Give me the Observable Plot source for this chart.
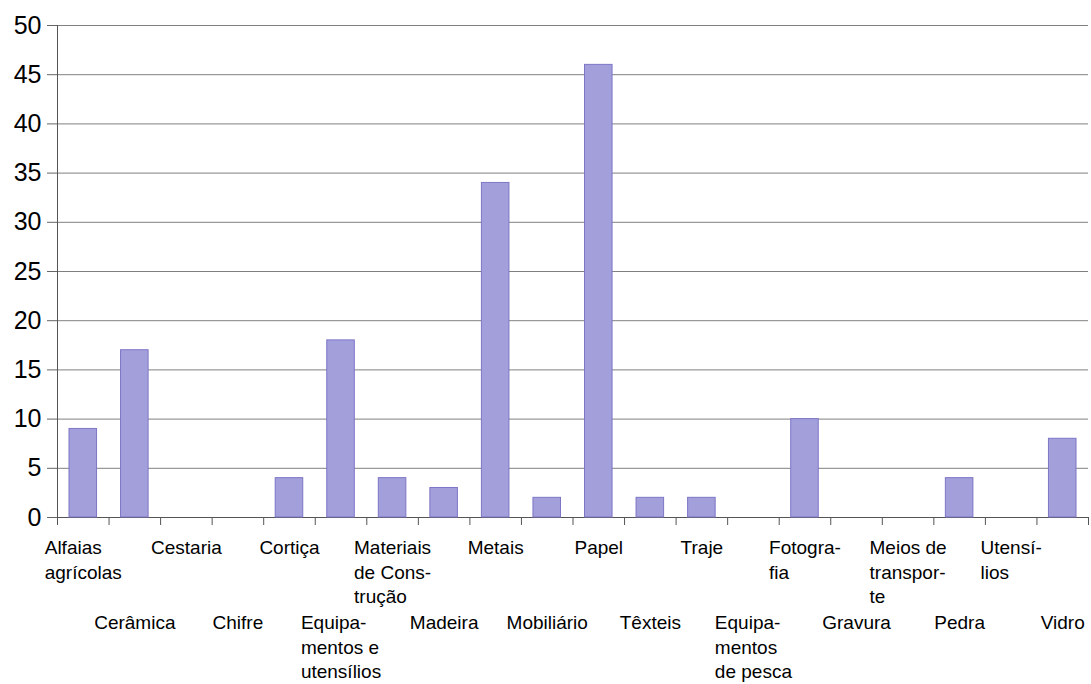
<!DOCTYPE html>
<html><head><meta charset="utf-8">
<script src="https://cdn.jsdelivr.net/npm/d3@7"></script>
<script src="https://cdn.jsdelivr.net/npm/@observablehq/plot@0.6"></script>
<style>html,body{margin:0;padding:0;background:#fff} svg{display:block}</style>
</head><body><div id="chart"></div>
<script>
const categories = ["Alfaias agrícolas","Cerâmica","Cestaria","Chifre","Cortiça","Equipamentos e utensílios","Materiais de Construção","Madeira","Metais","Mobiliário","Papel","Têxteis","Traje","Equipamentos de pesca","Fotografia","Gravura","Meios de transporte","Pedra","Utensílios","Vidro"];
const values = [9,17,0,0,4,18,4,3,34,2,46,2,2,0,10,0,0,4,0,8];
const labels = ["Alfaias\nagrícolas","Cerâmica","Cestaria","Chifre","Cortiça","Equipa-\nmentos e\nutensílios","Materiais\nde Cons-\ntrução","Madeira","Metais","Mobiliário","Papel","Têxteis","Traje","Equipa-\nmentos\nde pesca","Fotogra-\nfia","Gravura","Meios de\ntranspor-\nte","Pedra","Utensí-\nlios","Vidro"];
const labelRow = [0,1,0,1,0,1,0,1,0,1,0,1,0,1,0,1,0,1,0,1];
const yTicks = [0,5,10,15,20,25,30,35,40,45,50];

const FONT = '"Liberation Sans", Arial, sans-serif';
const W = 1091, H = 684, ML = 57, MR = 3, MT = 25, MB = 167;
const step = (W - ML - MR) / categories.length;
const data = categories.map((c, i) => ({category: c, value: values[i]}));

const ctx = document.createElement("canvas").getContext("2d");
ctx.font = `19px ${FONT}`;
const labelMarks = labels.map((t, i) => {
  const w = Math.max(...t.split("\n").map(s => ctx.measureText(s).width));
  return Plot.text([categories[i]], {
    x: d => d, frameAnchor: "bottom", text: () => t,
    textAnchor: "start", lineAnchor: "top", dx: -w / 2,
    dy: labelRow[i] ? 94 : 19, fontSize: 19, lineHeight: 1.3, fill: "#000"
  });
});

const chart = Plot.plot({
  width: W, height: H,
  marginLeft: ML, marginRight: MR, marginTop: MT, marginBottom: MB,
  style: {fontFamily: FONT, color: "#000", background: "#fff"},
  x: {type: "band", domain: categories, padding: 0, round: false, axis: null},
  y: {domain: [0, 50], axis: null},
  marks: [
    Plot.gridY(yTicks, {stroke: "#808080", strokeOpacity: 1}),
    Plot.ruleY([0], {stroke: "#555"}),
    Plot.frame({anchor: "left", stroke: "#555"}),
    Plot.barY(data, {x: "category", y: "value", insetLeft: 12, insetRight: 12,
      fill: "#a39fdb", stroke: "#7d76c6", strokeWidth: 1}),
    Plot.axisY(yTicks, {tickSize: 10, tickPadding: 6, fontSize: 25, stroke: "#666", tickFormat: d => d, label: null}),
    Plot.axisX(categories, {tickSize: 8, dx: -step / 2, tickFormat: () => "", stroke: "#555", label: null}),
    Plot.axisX([categories[categories.length - 1]], {tickSize: 8, dx: step / 2, tickFormat: () => "", stroke: "#555", label: null}),
    ...labelMarks
  ]
});
document.getElementById("chart").appendChild(chart);
</script>
</body></html>
